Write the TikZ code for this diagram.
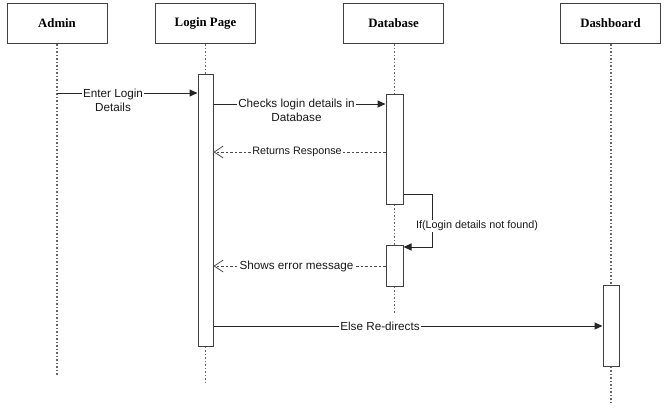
\documentclass[tikz,border=0pt]{standalone}
\usepackage{fontspec}
\setmainfont{Liberation Serif}
\newfontfamily\msgfont{Liberation Sans}
\usetikzlibrary{arrows.meta}

\tikzset{
  head/.style={draw=black!75, line width=1pt, minimum width=100pt, minimum height=40pt,
    font=\bfseries\fontsize{12.8}{14}\selectfont},
  act/.style={draw=black!75, line width=1pt, fill=white, minimum width=15pt, inner sep=0pt},
  life/.style={draw=black!60, line width=1.2pt, dash pattern=on 1.5pt off 2pt},
  msg/.style={draw=black!85, line width=1pt, -{Triangle[length=8pt,width=7pt]}},
  reply/.style={draw=black!70, line width=0.8pt, dash pattern=on 2.5pt off 2pt,
    -{Straight Barb[length=9pt,width=12pt]}},
  lbl/.style={fill=white, inner sep=1pt, align=center, text=black!90,
    font=\msgfont\fontsize{11.7}{14}\selectfont},
  lblsmall/.style={lbl, font=\msgfont\fontsize{10.8}{13}\selectfont},
}

\begin{document}
\begin{tikzpicture}[x=1pt,y=-1pt]
\useasboundingbox (0,0) rectangle (664,408);

% objects
\foreach \x/\n/\t in {57/admin/Admin, 205.5/login/Login Page, 393.5/db/Database, 610.5/dash/Dashboard}
  \node[head] (\n) at (\x,23.5) {\t};

% activations
\node[act, minimum height=272pt] (actlogin) at (205.5,210) {};
\node[act, minimum height=110pt, minimum width=17pt] (actdb) at (394.5,149) {};
\node[act, minimum height=41pt, minimum width=17pt] (actdbb) at (394.5,265.5) {};
\node[act, minimum height=81pt, minimum width=16pt] (actdash) at (611,325.5) {};

% lifelines
\coordinate (adminend) at (57,375);
\coordinate (loginend) at (205.5,385);
\coordinate (dbend) at (394.5,313);
\coordinate (dashend) at (611,403);
\draw[life] (admin.south) -- (adminend);
\draw[life] (login.south) -- (actlogin.north);
\draw[life] (actlogin.south) -- (loginend);
\draw[life] (db.south -| actdb.north) -- (actdb.north);
\draw[life] (actdb.south) -- (actdbb.north);
\draw[life] (actdbb.south) -- (dbend);
\draw[life] (dash.south -| actdash.north) -- (actdash.north);
\draw[life] (actdash.south) -- (dashend);

% messages
\coordinate (m1) at (57,93);
\draw[msg] (m1) -- (actlogin.west |- m1);
\node[lbl] (t1) at (113,100) {Enter Login\\Details};

\coordinate (m2) at (300,104);
\draw[msg] (actlogin.east |- m2) -- (actdb.west |- m2);
\node[lbl] (t2) at (296.5,110.5) {Checks login details in\\Database};

\coordinate (m3) at (300,152);
\draw[reply] (actdb.west |- m3) -- (actlogin.east |- m3);
\node[lblsmall] (t3) at (297,152) {Returns Response};

\coordinate (m4) at (432,194);
\coordinate (m5) at (432,247);
\draw[msg] (actdb.east |- m4) -- (m4) -- (m5) -- (actdbb.east |- m5);
\node[lblsmall] (t4) at (477,226) {If(Login details not found)};

\coordinate (m6) at (300,266);
\draw[reply] (actdbb.west |- m6) -- (actlogin.east |- m6);
\node[lbl] (t5) at (296.5,266) {Shows error message};

\coordinate (m7) at (400,326);
\draw[msg] (actlogin.east |- m7) -- (actdash.west |- m7);
\node[lbl] (t6) at (380,326) {Else Re-directs};

\end{tikzpicture}
\end{document}
